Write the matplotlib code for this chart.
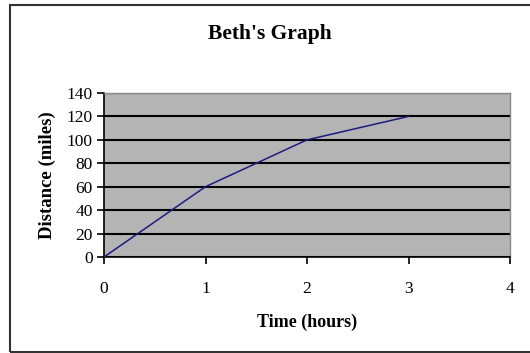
import matplotlib.pyplot as plt
from matplotlib.patches import Rectangle

# Beth's trip data
hours = [0, 1, 2, 3]
miles = [0, 60, 100, 120]
x_ticks = [0, 1, 2, 3, 4]
y_ticks = [0, 20, 40, 60, 80, 100, 120, 140]

plt.rcParams['font.family'] = ['Liberation Serif', 'DejaVu Serif']

W, H = 530, 353
fig = plt.figure(figsize=(W / 100, H / 100), dpi=100)

# outer chart frame
fig.patches.append(Rectangle((10 / W, 1 - 352 / H), 540 / W, 347 / H,
                             transform=fig.transFigure, fill=False,
                             edgecolor='#333333', linewidth=1.5))

# plot area: x 104..510, y 93..257 px
ax = fig.add_axes([104 / W, 1 - 257 / H, 406 / W, 164 / H])
ax.set_facecolor('#b4b4b4')
ax.plot(hours, miles, color='#1c1c80', linewidth=1.1, zorder=3)

ax.set_xlim(0, 4)
ax.set_ylim(0, 140)
ax.set_xticks(x_ticks)
ax.set_yticks(y_ticks)
ax.yaxis.grid(True, color='black', linewidth=1.5)
ax.set_axisbelow(True)

for side in ['top', 'right']:
    ax.spines[side].set_color('#888888')
    ax.spines[side].set_linewidth(1)
ax.spines['left'].set_linewidth(1.2)
ax.spines['bottom'].set_linewidth(1.2)

ax.tick_params(axis='both', labelsize=12.5, length=5, width=1.2, colors='black')
ax.tick_params(axis='x', pad=12)
ax.tick_params(axis='y', pad=3)

ax.set_xlabel('Time (hours)', fontsize=13, fontweight='bold', labelpad=12)
ax.set_ylabel('Distance (miles)', fontsize=13.5, fontweight='bold', labelpad=8)

fig.text(270 / W, 1 - 34 / H, "Beth's Graph", ha='center', va='center',
         fontsize=15.5, fontweight='bold')

fig.savefig('out.png', dpi=100)
